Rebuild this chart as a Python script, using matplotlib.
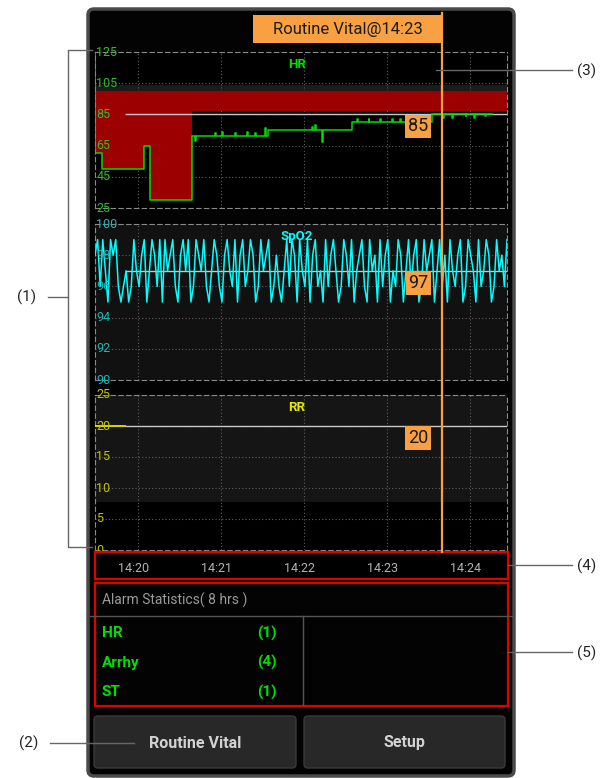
import numpy as np
import matplotlib.pyplot as plt
import matplotlib.transforms as mtransforms
from matplotlib.patches import Rectangle, FancyBboxPatch

plt.rcParams['font.family'] = ['Liberation Sans Narrow', 'Roboto', 'DejaVu Sans']

W, H = 602, 778

# time axis: minutes after 14:20
T0, T1 = -0.52, 4.45
tick_t = [0, 1, 2, 3, 4]
tick_lab = ['14:20', '14:21', '14:22', '14:23', '14:24']
cursor_t = 3.67
cursor_lab = 'Routine Vital@14:23'
ref_start = -0.16

# HR trend (steps)
hr_t = [-0.52, -0.515, -0.44, 0.077, 0.145, 0.648, 0.69, 0.70, 0.93, 0.94,
        1.01, 1.02, 1.17, 1.18, 1.31, 1.32, 1.41, 1.42, 1.53, 1.545,
        1.57, 2.10, 2.11, 2.13, 2.14, 2.22, 2.235, 2.58, 2.64, 2.65,
        2.78, 2.79, 2.92, 2.93, 3.06, 3.07, 3.16, 3.17, 3.55, 3.68,
        3.69, 3.79, 3.80, 3.95, 3.96, 4.05, 4.06, 4.19, 4.20, 4.27]
hr = [125, 60, 50, 65, 30, 71, 68, 71, 73, 71,
      74, 71, 73, 71, 74, 71, 73, 71, 76, 71,
      75, 77, 75, 78, 75, 67, 75, 80, 82, 80,
      82, 80, 82, 80, 82, 80, 82, 80, 85, 83,
      85, 83, 85, 84, 85, 83, 85, 84, 85, 85]
hr_alarm_n = 6          # samples inside the low-HR alarm fill
hr_band = (87, 100)     # alarm limit band
hr_ref = 85

spo2 = [98, 99, 96, 99, 97, 95, 99, 98, 99, 96,
        95, 96, 97, 95, 96, 99, 97, 96, 98, 99,
        95, 97, 99, 98, 96, 99, 95, 99, 97, 98,
        99, 96, 95, 98, 99, 97, 99, 95, 96, 99,
        98, 97, 99, 96, 95, 97, 99, 98, 96, 95,
        98, 99, 97, 96, 99, 95, 98, 99, 96, 97,
        99, 98, 95, 96, 99, 97, 98, 99, 95, 96,
        98, 96, 95, 97, 99, 96, 99, 98, 95, 99,
        97, 96, 99, 95, 98, 99, 96, 97, 95, 99,
        96, 98, 99, 97, 95, 96, 99, 98, 96, 99,
        95, 97, 98, 99, 96, 95, 99, 97, 98, 95,
        99, 96, 98, 99, 95, 97, 96, 99, 98, 95,
        97, 99, 96, 98, 99, 95, 96, 99, 97, 98,
        99, 95, 97, 99, 96, 98, 95, 99, 97, 96,
        98, 99, 95, 96, 99, 98, 97, 95, 99, 96,
        97, 99, 98, 95, 96, 99, 97, 98, 96, 99]
spo2_ref = 97

rr_t = [-0.52, -0.16]
rr = [20, 20]
rr_ref = 20

alarm_names = ['HR', 'Arrhy', 'ST']
alarm_counts = [1, 4, 1]

GREEN = '#00dd00'
CYAN = '#00ffff'
YELLOW = '#e6e600'
ORANGE = '#f8a042'
RED = '#9c0000'


def rect(x0, y0, x1, y1):
    return [x0 / W, 1 - y1 / H, (x1 - x0) / W, (y1 - y0) / H]


fig = plt.figure(figsize=(W / 100, H / 100), dpi=100)
fig.patch.set_facecolor('white')

bg = fig.add_axes([0, 0, 1, 1])
bg.set_xlim(0, W)
bg.set_ylim(H, 0)
bg.axis('off')
bg.add_patch(FancyBboxPatch((88, 9), 426, 767, boxstyle='round,pad=0,rounding_size=6',
                            fc='#030303', ec='#4a4a4a', lw=2.5))


def panel(y0, y1, lo, hi, labels, grid_vals, color, name, face, labcol):
    ax = fig.add_axes(rect(95, y0, 507, y1))
    ax.set_facecolor(face)
    ax.set_xlim(T0, T1)
    ax.set_ylim(lo, hi)
    for s in ax.spines.values():
        s.set_linestyle((0, (4, 3)))
        s.set_edgecolor('#8a8a8a')
        s.set_linewidth(0.8)
    ax.set_xticks(tick_t)
    ax.set_yticks(grid_vals)
    ax.tick_params(length=0, labelleft=False, labelbottom=False)
    ax.grid(True, color='#5e5e5e', linestyle=(0, (1, 2)), linewidth=0.8)
    ax.set_axisbelow(True)
    for v in labels:
        ax.text(0.003, v, str(v), transform=ax.get_yaxis_transform(), color=labcol,
                fontsize=9, va='center', ha='left', zorder=6, clip_on=False)
    ax.text(0.49, 0.92, name, transform=ax.transAxes, color=color, fontsize=9.5,
            fontweight='bold', ha='center', va='center', zorder=6)
    return ax


# HR
ax_hr = panel(52, 208, 25, 125, [125, 105, 85, 65, 45, 25], [105, 85, 65, 45],
              GREEN, 'HR', '#000000', '#2bbf2b')
ax_hr.axhspan(hr_band[1], 104, color='#1b1b1b', lw=0, zorder=0.5)
ax_hr.fill_between([T0, T1], hr_band[0], hr_band[1], color=RED, lw=0, zorder=1)
ax_hr.fill_between(hr_t[1:hr_alarm_n], hr[1:hr_alarm_n], hr_band[1], step='post',
                   color=RED, lw=0, zorder=1)
ax_hr.hlines(hr_ref, ref_start, T1, color='#c8c8c8', lw=1, zorder=2)
ax_hr.plot(hr_t, hr, drawstyle='steps-post', color=GREEN, lw=1.1, zorder=3)

# SpO2
ax_sp = panel(224, 380, 90, 100, [100, 98, 96, 94, 92, 90], [98, 96, 94, 92],
              CYAN, 'SpO2', '#111111', '#1fb5b5')
spo2_t = np.linspace(T0, T1, len(spo2))
ax_sp.plot(spo2_t, spo2, color=CYAN, lw=1.1, zorder=3)
ax_sp.hlines(spo2_ref, ref_start, T1, color='#c8c8c8', lw=1, zorder=2)

# RR
ax_rr = panel(395, 550, 0, 25, [25, 20, 15, 10, 5, 0], [20, 15, 10, 5],
              YELLOW, 'RR', '#000000', '#c4c400')
ax_rr.axhspan(7.7, 25, color='#151515', lw=0, zorder=0.5)
ax_rr.hlines(rr_ref, ref_start, T1, color='#c8c8c8', lw=1, zorder=2)
ax_rr.plot(rr_t, rr, color=YELLOW, lw=1.3, zorder=3)

# value boxes
for ax, v in [(ax_hr, hr_ref), (ax_sp, spo2_ref), (ax_rr, rr_ref)]:
    off = mtransforms.offset_copy(ax.transData, fig=fig, x=0, y=-3, units='dots')
    ax.text(3.38, v, str(v), transform=off, ha='center', va='top', fontsize=13,
            color='#1a1a1a', zorder=8,
            bbox=dict(boxstyle='square,pad=0.15', fc=ORANGE, ec='none'))

# time axis
ax_t = fig.add_axes(rect(95, 552, 508, 579))
ax_t.set_facecolor('#000000')
ax_t.set_xlim(T0, T1)
ax_t.set_ylim(0, 1)
ax_t.set_xticks([])
ax_t.set_yticks([])
for s in ax_t.spines.values():
    s.set_edgecolor('#e00000')
    s.set_linewidth(1.6)
lab_tr = mtransforms.offset_copy(ax_t.get_xaxis_transform(), fig=fig, x=-5, y=0, units='dots')
for t, lab in zip(tick_t, tick_lab):
    ax_t.text(t, 0.38, lab, transform=lab_tr, ha='center', va='center',
              color='#b4b4b4', fontsize=9)

# foreground overlay
fg = fig.add_axes([0, 0, 1, 1], zorder=20)
fg.set_xlim(0, W)
fg.set_ylim(H, 0)
fg.axis('off')
fg.patch.set_alpha(0)

cx = ax_hr.transData.transform((cursor_t, 0))[0]
fg.plot([cx, cx], [13, 552], color=ORANGE, lw=1.6)
fg.add_patch(Rectangle((253, 15), cx - 253, 28, fc=ORANGE, ec='none'))
fg.text((253 + cx) / 2, 29.5, cursor_lab, ha='center', va='center', fontsize=12, color='#1a1a1a')

# alarm statistics
fg.add_patch(Rectangle((95, 583), 413, 123, fc='none', ec='#e00000', lw=1.6))
fg.plot([90, 512], [616, 616], color='#555555', lw=1)
fg.plot([303, 303], [616, 705], color='#555555', lw=1)
fg.text(102, 600, 'Alarm Statistics( 8 hrs )', ha='left', va='center', fontsize=10, color='#9a9a9a')
for i, (nm, c) in enumerate(zip(alarm_names, alarm_counts)):
    y = 633 + i * 29.5
    fg.text(102, y, nm, ha='left', va='center', fontsize=11, fontweight='bold', color='#00e000')
    fg.text(267, y, f'({c})', ha='center', va='center', fontsize=11, fontweight='bold', color='#00e000')

# buttons
for x0, x1, lab in [(94, 296, 'Routine Vital'), (304, 505, 'Setup')]:
    fg.add_patch(FancyBboxPatch((x0, 716), x1 - x0, 52, boxstyle='round,pad=0,rounding_size=4',
                                fc='#282828', ec='#3a3a3a', lw=1))
    fg.text((x0 + x1) / 2, 743, lab, ha='center', va='center', fontsize=11.5,
            fontweight='bold', color='#d2d2d2')

# callouts
lc = '#666666'
fg.plot([92, 68, 68, 92], [50, 50, 547, 547], color=lc, lw=1)
fg.plot([48, 68], [297, 297], color=lc, lw=1)
fg.text(27, 297, '(1)', ha='center', va='center', fontsize=11, color='#222222')
fg.plot([50, 134], [743, 743], color=lc, lw=1)
fg.text(29, 743, '(2)', ha='center', va='center', fontsize=11, color='#222222')
for y, x0, lab in [(70, 436, '(3)'), (565, 508, '(4)'), (652, 508, '(5)')]:
    fg.plot([x0, 572], [y, y], color=lc, lw=1)
    fg.text(587, y + 1, lab, ha='center', va='center', fontsize=11, color='#222222')

fig.savefig('out.png', dpi=100, facecolor='white')
